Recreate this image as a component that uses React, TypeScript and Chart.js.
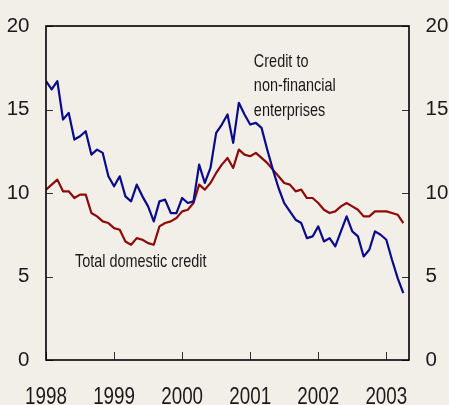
import React, { useEffect, useRef } from "react";
import { Chart, registerables } from "chart.js";

Chart.register(...registerables);

// Monthly observations, January 1998 onwards (x axis runs Jan 1998 – May 2003)
const yearLabels = ["1998", "1999", "2000", "2001", "2002", "2003"];
const yTicks = [0, 5, 10, 15, 20];

const totalDomesticCredit = [
  10.2, 10.5, 10.8, 10.1, 10.1, 9.7, 9.9, 9.9, 8.8, 8.6, 8.3, 8.2,
  7.9, 7.8, 7.1, 6.9, 7.3, 7.2, 7.0, 6.9, 8.0, 8.2, 8.3, 8.5,
  8.9, 9.0, 9.4, 10.5, 10.2, 10.6, 11.2, 11.7, 12.1, 11.5, 12.6, 12.3,
  12.2, 12.4, 12.1, 11.8, 11.4, 11.0, 10.6, 10.5, 10.1, 10.2, 9.7, 9.7,
  9.4, 9.0, 8.8, 8.9, 9.2, 9.4, 9.2, 9.0, 8.6, 8.6, 8.9, 8.9,
  8.9, 8.8, 8.7, 8.2,
];

const creditToNonFinancial = [
  16.7, 16.2, 16.7, 14.4, 14.8, 13.2, 13.4, 13.7, 12.3, 12.6, 12.4, 11.0,
  10.4, 11.0, 9.8, 9.5, 10.5, 9.8, 9.2, 8.3, 9.5, 9.6, 8.8, 8.8,
  9.7, 9.4, 9.5, 11.7, 10.6, 11.5, 13.6, 14.1, 14.7, 13.0, 15.4, 14.7,
  14.1, 14.2, 13.9, 12.6, 11.4, 10.3, 9.4, 8.9, 8.4, 8.2, 7.3, 7.4,
  8.0, 7.1, 7.3, 6.8, 7.7, 8.6, 7.7, 7.4, 6.2, 6.6, 7.7, 7.5,
  7.2, 6.0, 4.9, 4.0,
];

const annotations = [
  { lines: ["Credit to", "non-financial", "enterprises"], month: 36.65, value: 17.55 },
  { lines: ["Total domestic credit"], month: 5.1, value: 5.59 },
];

const FONT = '"Liberation Sans", Arial, sans-serif';
const BG = "#f2efe8";
const TEXT = "#1a1a1a";

function squishText(ctx: CanvasRenderingContext2D, text: string, x: number, y: number, sx: number) {
  ctx.save();
  ctx.translate(x, y);
  ctx.scale(sx, 1);
  ctx.fillText(text, 0, 0);
  ctx.restore();
}

const decor = {
  id: "decor",
  beforeDraw(chart: any) {
    const ctx = chart.ctx as CanvasRenderingContext2D;
    ctx.save();
    ctx.fillStyle = BG;
    ctx.fillRect(0, 0, chart.width, chart.height);
    ctx.restore();
  },
  afterDraw(chart: any) {
    const ctx = chart.ctx as CanvasRenderingContext2D;
    const a = chart.chartArea;
    const xs = chart.scales.x;
    const ys = chart.scales.y;
    ctx.save();

    // tick marks (inside)
    ctx.strokeStyle = "#333";
    ctx.lineWidth = 1;
    yTicks.forEach((v) => {
      const py = Math.round(ys.getPixelForValue(v)) + 0.5;
      ctx.beginPath();
      ctx.moveTo(a.left, py);
      ctx.lineTo(a.left + 7, py);
      ctx.moveTo(a.right - 7, py);
      ctx.lineTo(a.right, py);
      ctx.stroke();
    });
    yearLabels.forEach((_, k) => {
      const px = Math.round(xs.getPixelForValue(k * 12)) + 0.5;
      ctx.beginPath();
      ctx.moveTo(px, a.bottom);
      ctx.lineTo(px, a.bottom - 8);
      ctx.stroke();
    });

    // frame
    ctx.strokeStyle = "#000";
    ctx.lineWidth = 1.6;
    ctx.strokeRect(a.left, a.top, a.right - a.left, a.bottom - a.top);

    // y labels
    ctx.fillStyle = TEXT;
    ctx.font = `20.5px ${FONT}`;
    ctx.textBaseline = "middle";
    yTicks.forEach((v) => {
      const py = ys.getPixelForValue(v);
      ctx.textAlign = "right";
      ctx.fillText(String(v), a.left - 16.5, py);
      ctx.textAlign = "left";
      ctx.fillText(String(v), a.right + 16.5, py);
    });

    // x labels
    ctx.font = `23.5px ${FONT}`;
    ctx.textBaseline = "alphabetic";
    ctx.textAlign = "center";
    yearLabels.forEach((lab, k) => {
      const px = xs.getPixelForValue(k * 12);
      squishText(ctx, lab, px, a.bottom + 44, 0.8);
    });

    // annotations
    ctx.font = `18.5px ${FONT}`;
    ctx.textAlign = "left";
    annotations.forEach((an) => {
      const px = xs.getPixelForValue(an.month);
      const py = ys.getPixelForValue(an.value);
      an.lines.forEach((line, i) => squishText(ctx, line, px, py + i * 24.5, 0.78));
    });

    ctx.restore();
  },
};

export default function App() {
  const canvasRef = useRef<HTMLCanvasElement | null>(null);

  useEffect(() => {
    document.body.style.margin = "0";
    document.body.style.background = BG;
    const canvas = canvasRef.current;
    if (!canvas) return;
    const chart = new Chart(canvas, {
      type: "line",
      data: {
        datasets: [
          {
            label: "Credit to non-financial enterprises",
            data: creditToNonFinancial.map((y, i) => ({ x: i, y })),
            borderColor: "#0a0a8c",
            borderWidth: 2.2,
            pointRadius: 0,
            tension: 0,
            borderJoinStyle: "round",
          },
          {
            label: "Total domestic credit",
            data: totalDomesticCredit.map((y, i) => ({ x: i, y })),
            borderColor: "#8c0a0a",
            borderWidth: 2.2,
            pointRadius: 0,
            tension: 0,
            borderJoinStyle: "round",
          },
        ],
      },
      options: {
        animation: false,
        responsive: false,
        maintainAspectRatio: false,
        devicePixelRatio: 1,
        layout: { padding: { left: 46, right: 40, top: 26, bottom: 45 } },
        plugins: { legend: { display: false }, tooltip: { enabled: false } },
        scales: {
          x: { type: "linear", min: 0, max: 64, display: false },
          y: { type: "linear", min: 0, max: 20, display: false },
        },
      },
      plugins: [decor],
    });
    return () => chart.destroy();
  }, []);

  return (
    <div style={{ width: 449, height: 405, background: BG }}>
      <canvas ref={canvasRef} width={449} height={405} style={{ width: 449, height: 405, display: "block" }} />
    </div>
  );
}
